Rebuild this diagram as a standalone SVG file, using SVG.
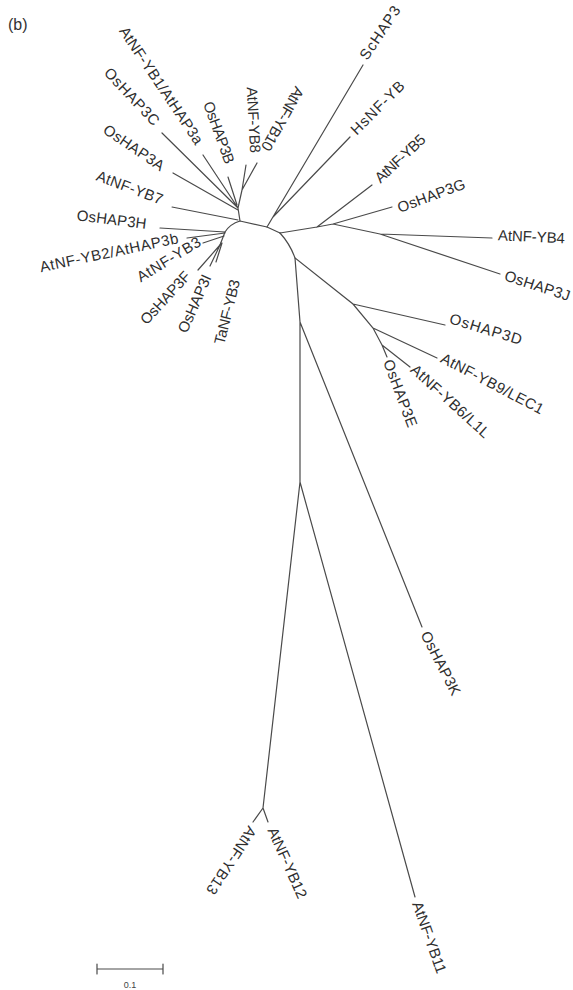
<svg xmlns="http://www.w3.org/2000/svg" width="573" height="990" viewBox="0 0 573 990">
<style>
.e{stroke:#4a4a4a;stroke-width:1.2;fill:none;stroke-linecap:round}
.t{font-family:"Liberation Sans",Arial,sans-serif;font-size:15px;fill:#2e2e2e}
</style>
<rect width="573" height="990" fill="#fff"/>
<text x="8" y="30" style="font-family:'Liberation Sans',Arial,sans-serif;font-size:16px;fill:#333">(b)</text>
<g id="edges" class="e">
<path d="M203,155L238,208M162,133L238,208M228,177L237,205M246,165L242,190M257,163L242,190M242,190L238,208M173,173L238,210M238,208L240,221M172,207L238,220"/>
<path d="M240,221L267,227M240,221Q230,224 225,232L220,245"/>
<path d="M160,228L225,232M187,238L225,233M203,243L224,236M198,270L220,245M210,266L221,243M216,262L222,243"/>
<path d="M267,227L280,233M267,227L363,65M273,217L350,137"/>
<path d="M280,233L317,227L333,224L380,234M317,227L372,185M333,224L392,207M380,234L492,238M380,234L500,274"/>
<path d="M280,233Q290,244 295,258L353,304L373,328L382,345M353,304L445,325M373,328L437,358M382,345L410,367M382,345L387,357"/>
<path d="M295,258L300,322L300,482L263,808M300,322L422,627M300,482L415,897M263,808L253,822M263,808L268,822"/>
</g>
<g id="scale" class="e">
<path d="M97,969H163M97,964V974M163,964V974"/>
<text x="130" y="988" text-anchor="middle" style="font-family:'Liberation Sans',Arial,sans-serif;font-size:9px;fill:#444;stroke:none">0.1</text>
</g>
<g id="ScHAP3"><text class="t" transform="translate(363,58) rotate(-56.3)" dy="0.35em" textLength="61">ScHAP3</text></g>
<g id="HsNF-YB"><text class="t" transform="translate(353,132) rotate(-45)" dy="0.35em" textLength="69">HsNF-YB</text></g>
<g id="AtNF-YB5"><text class="t" transform="translate(377,180) rotate(-43)" dy="0.35em" textLength="63">AtNF-YB5</text></g>
<g id="OsHAP3G"><text class="t" transform="translate(398,208) rotate(-20.5)" dy="0.35em" textLength="71">OsHAP3G</text></g>
<g id="AtNF-YB4"><text class="t" transform="translate(498,235) rotate(2.6)" dy="0.35em" textLength="67">AtNF-YB4</text></g>
<g id="OsHAP3J"><text class="t" transform="translate(505,275) rotate(18)" dy="0.35em" textLength="68">OsHAP3J</text></g>
<g id="OsHAP3D"><text class="t" transform="translate(450,318) rotate(17)" dy="0.35em" textLength="75">OsHAP3D</text></g>
<g id="AtNF-YB9"><text class="t" transform="translate(442,357) rotate(27.7)" dy="0.35em" textLength="114">AtNF-YB9/LEC1</text></g>
<g id="AtNF-YB6"><text class="t" transform="translate(413,367) rotate(42.2)" dy="0.35em" textLength="101">AtNF-YB6/L1L</text></g>
<g id="OsHAP3E"><text class="t" transform="translate(388,360) rotate(69.5)" dy="0.35em" textLength="71">OsHAP3E</text></g>
<g id="OsHAP3K"><text class="t" transform="translate(425,632) rotate(63)" dy="0.35em" textLength="70">OsHAP3K</text></g>
<g id="AtNF-YB11"><text class="t" transform="translate(417,902) rotate(70.6)" dy="0.35em" textLength="75">AtNF-YB11</text></g>
<g id="AtNF-YB12"><text class="t" transform="translate(272,828) rotate(66)" dy="0.35em" textLength="76">AtNF-YB12</text></g>
<g id="AtNF-YB13"><text class="t" transform="translate(253,828) rotate(123.5)" dy="0.35em" textLength="78">AtNF-YB13</text></g>
<g id="AtNF-YB1"><text class="t" transform="translate(123,28) rotate(56.2)" dy="0.35em" textLength="138">AtNF-YB1/AtHAP3a</text></g>
<g id="OsHAP3C"><text class="t" transform="translate(107,70) rotate(46.7)" dy="0.35em" textLength="73">OsHAP3C</text></g>
<g id="OsHAP3B"><text class="t" transform="translate(208,102) rotate(70)" dy="0.35em" textLength="65">OsHAP3B</text></g>
<g id="AtNF-YB8"><text class="t" transform="translate(252,87) rotate(87)" dy="0.35em" textLength="66">AtNF-YB8</text></g>
<g id="AtNF-YB10"><text class="t" transform="translate(300,88) rotate(119.4)" dy="0.35em" textLength="71">AtNF-YB10</text></g>
<g id="OsHAP3A"><text class="t" transform="translate(105,128) rotate(34)" dy="0.35em" textLength="70">OsHAP3A</text></g>
<g id="AtNF-YB7"><text class="t" transform="translate(97,175) rotate(20.7)" dy="0.35em" textLength="70">AtNF-YB7</text></g>
<g id="OsHAP3H"><text class="t" transform="translate(77,215) rotate(7)" dy="0.35em" textLength="70">OsHAP3H</text></g>
<g id="AtNF-YB2"><text class="t" transform="translate(40,267) rotate(-11.9)" dy="0.35em" textLength="141">AtNF-YB2/AtHAP3b</text></g>
<g id="AtNF-YB3"><text class="t" transform="translate(138,278) rotate(-31.5)" dy="0.35em" textLength="72">AtNF-YB3</text></g>
<g id="OsHAP3F"><text class="t" transform="translate(143,322) rotate(-47.4)" dy="0.35em" textLength="66">OsHAP3F</text></g>
<g id="OsHAP3I"><text class="t" transform="translate(182,332) rotate(-66.3)" dy="0.35em" textLength="62">OsHAP3I</text></g>
<g id="TaNF-YB3"><text class="t" transform="translate(219,344) rotate(-76)" dy="0.35em" textLength="66">TaNF-YB3</text></g>
</svg>
